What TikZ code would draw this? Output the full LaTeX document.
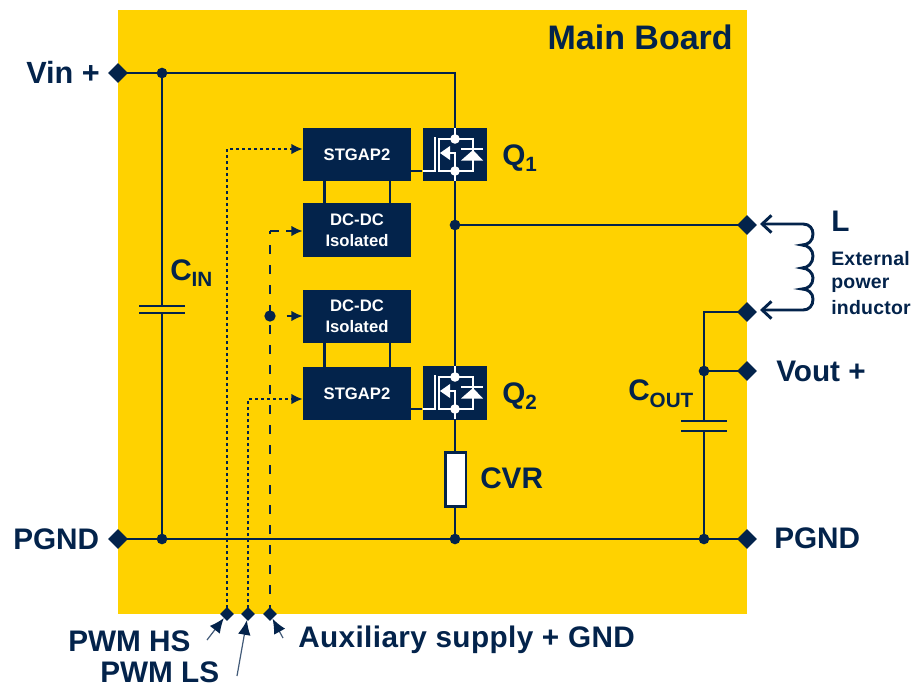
\documentclass[tikz,border=0pt]{standalone}
\usepackage{fontspec}
\setmainfont{Liberation Sans}
\usetikzlibrary{shapes.geometric,arrows.meta}
\definecolor{navy}{HTML}{03234B}
\definecolor{board}{HTML}{FFD200}
\newcommand\lowsub[1]{\raisebox{-5pt}{\fontsize{15.5}{16}\selectfont #1}}
\tikzset{
  x=0.75pt,y=-0.75pt,
  wire/.style={draw=navy,line width=2.2pt},
  ctrl/.style={draw=navy,line width=2.2pt},
  pad/.style={diamond,fill=navy,inner sep=0pt,minimum width=15pt,minimum height=15pt},
  smallpad/.style={diamond,fill=navy,inner sep=0pt,minimum width=10.5pt,minimum height=10.5pt},
  junction/.style={circle,fill=navy,inner sep=0pt,minimum size=8pt},
  chip/.style={fill=navy,inner sep=0pt,minimum width=81pt,minimum height=40pt,text=white,align=center,font=\fontsize{12.5}{15.5}\selectfont\bfseries},
  fetbox/.style={fill=navy,inner sep=0pt,minimum width=48.5pt,minimum height=40pt},
  label/.style={text=navy,inner sep=0pt,anchor=west,font=\fontsize{22.3}{26}\selectfont\bfseries},
  small label/.style={text=navy,inner sep=0pt,anchor=base west,font=\fontsize{14.6}{18}\selectfont\bfseries\addfontfeatures{LetterSpace=1.2}},
  plate/.style={draw=navy,line width=2.2pt},
  tipfill/.style={-{Latex[length=8.5pt,width=8pt]}},
  pointer/.style={draw=navy!75,line width=0.9pt,-{Latex[length=11pt,width=9.5pt,color=navy]}},
  barb/.style={draw=navy,line width=2.2pt,{Straight Barb[length=7pt,width=13pt]}-{Straight Barb[length=7pt,width=13pt]}},
  fet/.pic={
    \draw[white,line width=1.3pt] (-32,33) -- (-20,33) -- (-20,-1);
    \draw[white,line width=1.3pt] (-16,1) -- (18,1) -- (18,33) -- (-16,33) -- cycle;
    \draw[white,line width=1.5pt] (0,-10) -- (0,43);
    \fill[navy] (-14,3.5) rectangle (16.5,30.5);
    \draw[white,line width=1.5pt] (-6,15) -- (0,15) -- (0,33);
    \fill[white] (-15,15) -- (-5,8) -- (-5,22) -- cycle;
    \fill[white] (18,12) -- (6,22.5) -- (28,22.5) -- cycle;
    \draw[white,line width=1.4pt] (6,11) -- (28,11);
    \draw[white,line width=1.3pt] (18,1) -- (18,33);
    \fill[white] (0,1) circle[radius=3.6pt] (0,33) circle[radius=3.6pt];
  }
}
\begin{document}
\begin{tikzpicture}
\useasboundingbox (0,0) rectangle (915,689);
\fill[board] (118,10) rectangle (747,614);

% pads and junctions
\node[pad] (vin) at (118,73) {};
\node[pad] (pgl) at (118,539) {};
\node[pad] (pgr) at (747,539) {};
\node[pad] (sw) at (747,225) {};
\node[pad] (lout) at (747,312) {};
\node[pad] (vout) at (747,371) {};
\node[smallpad] (pwmhs) at (227,614) {};
\node[smallpad] (pwmls) at (248,614) {};
\node[smallpad] (aux) at (270,614) {};
\coordinate (capintop) at (162,306);
\coordinate (capinbot) at (162,313);
\coordinate (capouttop) at (704,421);
\coordinate (capoutbot) at (704,431);

% chips
\node[chip] (gap1) at (357,154.5) {STGAP2};
\node[chip] (dc1) at (357,230) {DC-DC\\Isolated};
\node[chip] (dc2) at (357,316.5) {DC-DC\\Isolated};
\node[chip] (gap2) at (357,393.5) {STGAP2};
\node[fetbox] (q1) at (455,154.5) {};
\node[fetbox] (q2) at (455,393) {};
\node[draw=navy,line width=2pt,fill=white,inner sep=0pt,minimum width=15.5pt,minimum height=40.5pt] (cvr) at (455.5,479.5) {};

\node[junction] (jvin) at (162,73) {};
\node[junction] (jpgl) at (162,539) {};
\node[junction] (jsw) at (455,225) {};
\node[junction] (jpgc) at (455,539) {};
\node[junction] (jpgr) at (704,539) {};
\node[junction] (jvout) at (704,371) {};
\node[junction,minimum size=8.5pt] (jaux) at (270,316) {};

\draw[wire] (vin.center) -- (jvin.center) -- (455,73) coordinate (top) -- (q1.north -| top);
\draw[wire] (jvin.center) -- (capintop);
\draw[wire] (capinbot) -- (jpgl.center);
\draw[wire] (pgl.center) -- (pgr.center);
\draw[wire] (q1.south -| jsw) -- (jsw.center) -- (q2.north -| jsw);
\draw[wire] (jsw.center) -- (sw.center);
\draw[wire] (q2.south -| jsw) -- (cvr.north -| jsw);
\draw[wire] (cvr.south -| jsw) -- (jpgc.center);
\draw[wire] (lout.center) -- (704,312) coordinate (corner) -- (capouttop);
\draw[wire] (capoutbot) -- (jpgr.center);
\draw[wire] (jvout.center) -- (vout.center);

% capacitor plates
\draw[plate] (139,306) -- (185,306) (139,313) -- (185,313);
\draw[plate] (681,421) -- (727,421) (681,431) -- (727,431);

% chip links
\foreach \a/\b in {gap1/dc1,dc2/gap2}{
  \draw[wire] (\a.south -| 324.5,0) -- (\b.north -| 324.5,0);
  \draw[wire] (\a.south -| 390,0) -- (\b.north -| 390,0);
}
\draw[wire] (gap1.east |- 0,171) -- (q1.west |- 0,171);
\draw[wire] (gap2.east |- 0,409) -- (q2.west |- 0,409);

% MOSFET symbols
\pic at (455,138) {fet};
\pic at (455,376) {fet};

% control lines
\draw[ctrl,dash pattern=on 2pt off 2.5pt,tipfill] (pwmhs.center) -- (227,149) -- (gap1.west |- 0,149);
\draw[ctrl,dash pattern=on 2pt off 2.5pt,tipfill] (pwmls.center) -- (248,399) -- (gap2.west |- 0,399);
\draw[ctrl,dash pattern=on 7pt off 8pt] (aux.center) -- (270,231);
\draw[ctrl,dash pattern=on 7pt off 5pt,tipfill] (270,231) -- (dc1.west |- 0,231);
\draw[ctrl,tipfill] ([xshift=12.5pt]jaux.center) -- (dc2.west |- jaux);

% inductor
\coordinate (ltip) at (760,224);
\coordinate (lbot) at (760,310);
\draw[barb] (ltip) -- (803,224)
  .. controls (810,224) and (813,229) .. (813,234)
  .. controls (813,241) and (808,245) .. (802,245)
  .. controls (808,245) and (813,250) .. (813,256)
  .. controls (813,263) and (808,268) .. (802,268)
  .. controls (808,268) and (813,273) .. (813,278)
  .. controls (813,285) and (808,289) .. (802,289)
  .. controls (808,289) and (813,293) .. (813,299)
  .. controls (813,306) and (809,310) .. (803,310)
  -- (lbot);

% pointers
\coordinate (hsfrom) at (207,640);
\coordinate (lsfrom) at (237,676);
\coordinate (auxfrom) at (283,638);
\draw[pointer] (hsfrom) -- (pwmhs);
\draw[pointer] (lsfrom) -- (pwmls);
\draw[pointer] (auxfrom) -- (aux);

% labels
\node[label,anchor=east,font=\fontsize{25.5}{30}\selectfont\bfseries] (title) at (733,37) {Main Board};
\node[label,font=\fontsize{23}{26}\selectfont\bfseries] (lvin) at (26,72) {Vin +};
\node[label] (lpgl) at (13,539) {PGND};
\node[label] (lpgr) at (774,538) {PGND};
\node[label] (lvout) at (776,371) {Vout +};
\node[label] (lcin) at (170,273) {C\lowsub{IN}};
\node[label] (lcout) at (628,394) {C\lowsub{OUT}};
\node[label] (lcvr) at (480,478) {CVR};
\node[label] (lq1) at (502,158) {Q\lowsub{1}};
\node[label] (lq2) at (502,396) {Q\lowsub{2}};
\node[label] (ll) at (831,221) {L};
\node[small label] (ext1) at (831,265) {External};
\node[small label] (ext2) at (831,288) {power};
\node[small label] (ext3) at (831,314) {inductor};
\node[label] (lhs) at (68,641) {PWM HS};
\node[label,anchor=base west] (lls) at (100,682) {PWM LS};
\node[label,font=\fontsize{22.3}{26}\selectfont\bfseries\addfontfeatures{LetterSpace=1.3}] (laux) at (298,640) {Auxiliary supply + GND};
\end{tikzpicture}
\end{document}
